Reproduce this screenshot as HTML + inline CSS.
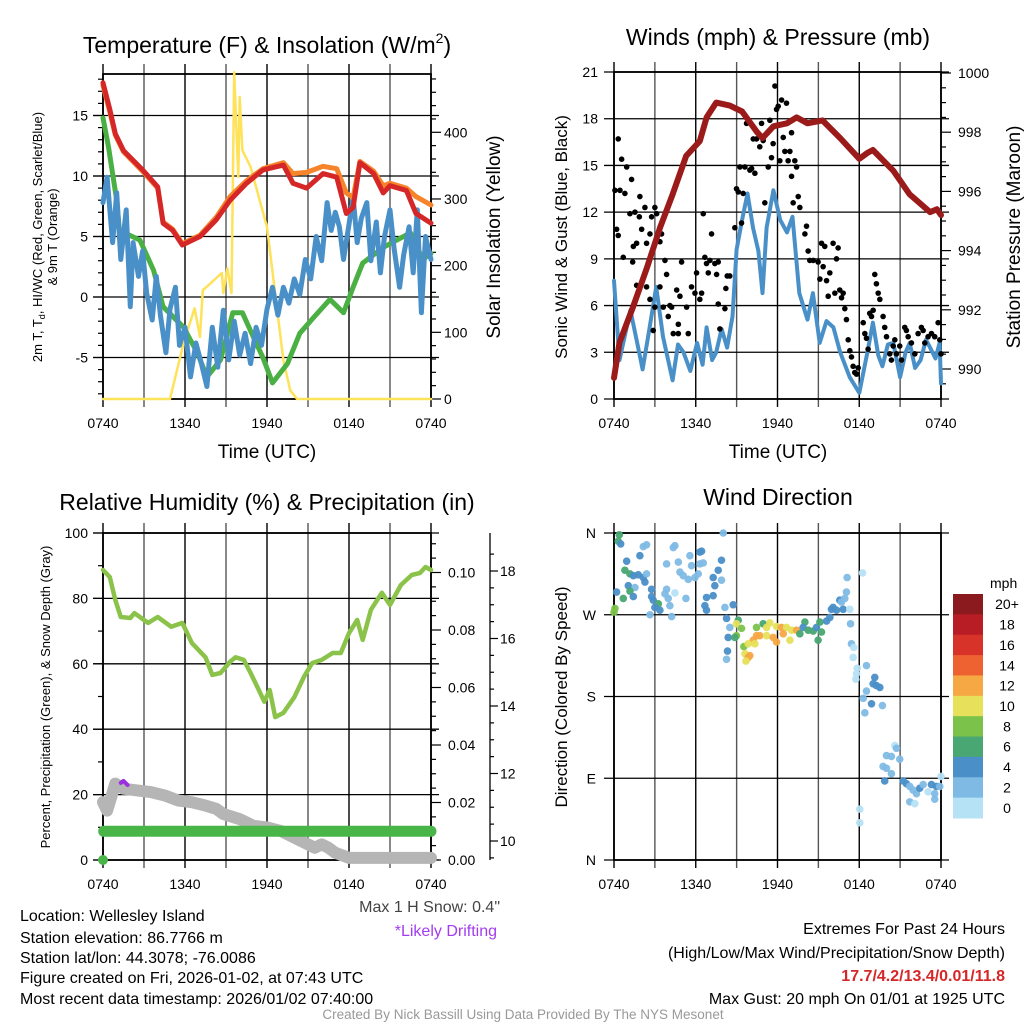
<!DOCTYPE html>
<html><head><meta charset="utf-8"><style>
html,body{margin:0;padding:0;background:#fff;}
svg{display:block;font-family:"Liberation Sans",Arial,sans-serif;}
</style></head><body>
<svg id="s" width="1024" height="1024" viewBox="0 0 1024 1024" xmlns="http://www.w3.org/2000/svg">
<rect width="1024" height="1024" fill="#fff"/>
<text x="267" y="53" font-size="23" text-anchor="middle">Temperature (F) &amp; Insolation (W/m<tspan font-size="14" dy="-10">2</tspan><tspan dy="10">)</tspan></text>
<text x="778" y="45" font-size="23" text-anchor="middle">Winds (mph) &amp; Pressure (mb)</text>
<text x="267" y="510" font-size="23" text-anchor="middle">Relative Humidity (%) &amp; Precipitation (in)</text>
<text x="778" y="505" font-size="23" text-anchor="middle">Wind Direction</text>
<text x="267" y="458" font-size="19" text-anchor="middle">Time (UTC)</text>
<text x="778" y="458" font-size="19" text-anchor="middle">Time (UTC)</text>
<text transform="translate(42,237) rotate(-90)" font-size="13" text-anchor="middle">2m T, T<tspan font-size="9" dy="3">d</tspan><tspan dy="-3">, HI/WC (Red, Green, Scarlet/Blue)</tspan></text>
<text transform="translate(57,237) rotate(-90)" font-size="13" text-anchor="middle">&amp; 9m T (Orange)</text>
<text transform="translate(500,237) rotate(-90)" font-size="19" text-anchor="middle">Solar Insolation (Yellow)</text>
<text transform="translate(567,237) rotate(-90)" font-size="17" text-anchor="middle">Sonic Wind &amp; Gust (Blue, Black)</text>
<text transform="translate(1020,237) rotate(-90)" font-size="19" text-anchor="middle">Station Pressure (Maroon)</text>
<text transform="translate(50,697) rotate(-90)" font-size="13" text-anchor="middle">Percent, Precipitation (Green), &amp; Snow Depth (Gray)</text>
<text transform="translate(567,697) rotate(-90)" font-size="17" text-anchor="middle">Direction (Colored By Speed)</text>
<g id="g1"></g><g id="g2"></g><g id="g3"></g><g id="g4"></g>
<g font-size="16">
<text x="20" y="921">Location: Wellesley Island</text>
<text x="20" y="943">Station elevation: 86.7766 m</text>
<text x="20" y="963">Station lat/lon: 44.3078; -76.0086</text>
<text x="20" y="983">Figure created on Fri, 2026-01-02, at 07:43 UTC</text>
<text x="20" y="1004">Most recent data timestamp: 2026/01/02 07:40:00</text>
</g>
<text x="500" y="912" font-size="16" text-anchor="end" fill="#444">Max 1 H Snow: 0.4"</text>
<text x="497" y="936" font-size="16" text-anchor="end" fill="#a33cf0">*Likely Drifting</text>
<g font-size="16" text-anchor="end">
<text x="1005" y="934">Extremes For Past 24 Hours</text>
<text x="1005" y="958">(High/Low/Max Wind/Precipitation/Snow Depth)</text>
<text x="1005" y="981" fill="#d62728" font-weight="bold">17.7/4.2/13.4/0.01/11.8</text>
<text x="1005" y="1004">Max Gust: 20 mph On 01/01 at 1925 UTC</text>
</g>
<text x="523" y="1019" font-size="13.5" text-anchor="middle" fill="#999">Created By Nick Bassill Using Data Provided By The NYS Mesonet</text>
</svg>
<script>
// ---------- data ----------
const timeTicks = ["0740","1340","1940","0140","0740"];
const redH = [0,0.5,0.9,1.5,2.9,4.0,4.4,5.1,5.8,7.1,8.3,9.3,10.5,11.7,13.2,13.9,14.9,16.1,17.1,17.8,18.3,18.8,19.8,20.5,21,22.2,22.9,24];
const redV = [17.7,15.5,13.5,12.1,10.5,9.1,6.1,5.5,4.3,5.0,6.4,8.0,9.4,10.5,10.9,9.4,9.0,10.2,9.9,6.9,7.4,11.1,10.2,8.6,9.2,8.8,6.9,6.1];
const orangeV = [17.5,15.3,13.4,12.0,10.4,9.0,6.2,5.6,4.4,5.1,6.6,8.3,9.6,10.6,11.1,10.2,10.3,10.8,10.6,8.6,8.2,11.2,10.4,9.2,9.4,9.0,8.3,7.6];
const greenH = [0,0.4,1.0,1.2,2.7,3.7,4.4,5.9,6.9,7.6,8.6,9.5,10.2,11,11.7,12.4,13.5,14.4,15.4,16.6,17.6,18.3,19,20.5,21.5,22.5,23.4,24];
const greenV = [14.8,12.4,8.0,5.5,4.7,2.2,-0.8,-2.5,-4.6,-6.6,-5.2,-1.3,-1.3,-3.3,-5.0,-7.1,-5.5,-3.0,-1.7,-0.2,-1.3,0.8,2.8,4.1,4.7,5.3,3.1,3.6];
const blueH = [0,0.3,0.7,1.0,1.3,1.7,2.0,2.2,2.6,2.9,3.2,3.6,3.9,4.2,4.6,4.9,5.3,5.6,6.0,6.4,6.8,7.2,7.6,8.0,8.4,8.8,9.2,9.6,10.0,10.4,10.8,11.2,11.6,12.0,12.4,12.8,13.2,13.6,14.0,14.4,14.8,15.2,15.6,16.0,16.4,16.7,17.0,17.3,17.6,18.0,18.3,18.6,18.9,19.3,19.6,20.0,20.3,20.6,21.0,21.3,21.7,22.0,22.4,22.7,23.0,23.3,23.6,24];
const blueV = [7.8,9.9,4.5,8.6,3.1,7.2,-0.8,4.5,1.7,3.8,0.3,-1.9,1.7,-1.5,-4.6,-1.0,0.8,-4.0,-2.5,-6.6,-3.8,-5.5,-7.4,-2.5,-5.8,-1.1,-5.2,-2.0,-4.8,-3.0,-5.5,-2.5,-4.0,-1.0,0.8,-1.5,0.8,-0.5,1.5,0.2,3.1,1.5,5.0,3.0,7.8,5.5,7.0,5.8,3.1,6.0,8.3,4.5,6.5,7.8,3.0,6.2,2.0,5.0,7.2,4.0,0.8,3.5,5.8,2.0,7.2,-1.3,5.0,3.1];
const solarH = [0,4.9,5.9,6.7,7.1,7.3,8.7,8.8,9.1,9.4,9.6,9.9,10.0,10.2,10.8,12.0,13.2,13.7,14.2,24];
const solarV = [0,0,84,136,93,163,189,159,196,159,490,333,453,373,348,258,58,13,0,0];

const presH = [0,0.4,1.4,2.4,3.4,4.3,5.3,6.3,6.8,7.5,8.5,9.4,10.5,10.9,11.7,12.7,13.4,14.2,15.3,16.6,18,18.6,19,20.5,21.7,23.2,23.7,24];
const presV = [989.7,990.9,992.1,993.4,994.8,995.9,997.2,997.7,998.5,999.0,998.9,998.7,998.0,997.8,998.2,998.3,998.5,998.3,998.4,997.8,997.1,997.3,997.4,996.7,995.9,995.3,995.4,995.2];
const windH = [0,0.4,1.2,1.7,2.1,2.6,3.1,3.6,4.3,4.7,5.1,5.6,6.1,6.5,6.8,7.2,7.5,7.9,8.3,8.7,9.0,9.4,9.8,10.2,10.6,10.9,11.2,11.7,12.2,12.7,13.1,13.6,14.2,14.6,15.1,15.6,16.1,16.6,17.3,18,18.6,19,19.4,19.7,20.1,20.5,21,21.4,21.7,22.1,22.5,22.9,23.2,23.6,23.9,24];
const windV = [7.6,2.5,5.7,3.6,1.9,4.5,7.2,4.0,1.2,3.5,3.0,1.8,3.6,2.2,4.6,2.5,3.0,4.5,3.3,5.3,9.6,11.5,13.2,11.0,9.5,6.8,11.0,13.4,11.5,10.7,11.7,6.8,5.1,6.8,3.6,5.0,4.6,3.0,1.4,0.4,3.0,4.9,2.8,2.1,3.5,3.6,1.4,3.0,3.6,2.0,2.5,3.8,3.3,2.6,3.6,1.0];
const gustH = [0.07,0.31,0.44,0.8,0.56,0.93,1.29,0.19,0.31,0.68,1.17,1.54,1.9,2.03,1.86,1.42,1.66,2.27,2.39,2.64,2.76,3.0,3.13,3.49,3.37,1.37,1.66,2.39,2.64,2.88,3.0,3.37,3.62,3.86,3.74,4.1,3.98,4.23,4.35,4.6,4.84,4.96,4.72,4.72,5.33,5.45,5.69,5.94,6.06,6.3,6.43,6.55,6.67,6.79,6.92,7.04,7.16,7.4,7.53,7.65,7.77,7.65,8.14,8.21,8.31,8.5,8.87,8.99,9.12,9.24,9.36,9.48,9.61,9.73,9.85,9.97,10.1,10.22,10.34,10.46,10.7,10.83,10.95,11.07,11.32,11.44,11.56,11.68,11.81,11.93,12.05,12.17,12.3,12.42,12.54,12.66,12.78,12.91,13.03,13.03,13.15,13.27,13.4,13.52,13.64,14.01,14.13,14.25,14.37,14.62,14.98,15.11,15.23,15.35,15.47,15.6,15.72,15.84,16.08,16.21,16.33,16.45,16.57,16.7,16.82,16.94,17.06,17.19,17.31,17.43,17.55,17.67,17.8,17.92,18.29,18.41,18.53,18.65,18.77,18.9,19.02,19.14,19.26,19.39,19.51,19.75,19.87,20.0,20.24,20.36,20.49,20.61,20.73,20.97,21.1,21.34,21.46,21.59,21.83,22.08,22.32,22.56,22.69,22.81,23.05,23.3,23.54,23.79,23.91,24];
const gustV = [13.4,16.7,13.4,13.2,15.4,14.9,14.1,10.9,10.5,9.1,11.9,12.0,13.0,10.9,11.7,9.8,10.0,12.3,10.0,10.6,11.7,12.3,11.9,10.6,10.1,8.8,7.3,7.2,6.4,4.4,5.9,7.2,5.9,8.0,8.9,6.0,5.3,5.9,4.2,7.0,6.6,8.8,4.8,4.2,5.9,4.2,7.2,6.8,8.1,6.4,6.8,11.9,9.1,8.7,8.1,8.9,10.6,8.7,8.0,8.8,4.5,6.1,5.8,7.1,7.9,7.9,11.0,13.5,13.3,14.9,11.3,13.2,14.9,17.7,17.9,14.7,14.8,16.7,14.5,16.7,16.2,17.7,16.6,12.6,14.9,17.9,15.5,16.4,20.1,18.6,18.8,15.3,19.2,16.8,15.9,19.0,15.3,15.9,17.1,14.3,12.6,15.3,14.9,13.0,12.3,10.6,11.1,9.5,8.9,8.9,8.8,7.7,10.0,8.5,9.8,7.6,6.6,8.1,10.0,6.8,9.0,9.7,7.0,6.5,6.8,5.8,5.1,3.8,3.1,2.7,2.1,1.7,1.6,2.0,4.9,4.2,3.9,3.2,5.5,5.3,5.7,8.0,7.4,6.8,6.4,5.3,4.6,4.0,2.9,2.5,3.4,3.8,2.9,3.4,2.5,4.6,4.4,4.0,3.6,2.9,4.2,4.6,4.4,3.6,4.0,4.2,4.0,4.9,3.8,2.9];

const rhH = [0,0.5,0.9,1.3,2,2.3,3,3.3,4,5,5.8,6.5,7.5,8,8.6,9.3,9.7,10.3,10.8,11.4,11.8,12.2,12.6,13.2,14,14.7,15.3,16,16.8,17.4,18,18.6,19,19.6,20.4,21,21.8,22.6,23.2,23.6,24];
const rhV = [88.7,86.5,79.5,74.3,74,75.5,73.4,72.5,74.3,71.3,72.5,66.4,62,56.6,57.2,60.6,62,61.2,57.2,52,48.4,52,43.7,45,49.8,56,60.2,61.2,63.3,63.3,69.4,73.4,67.3,76.5,81.7,78,84.1,87.2,87.8,89.6,88.7];
const snowH = [0,0.3,0.9,1.5,2.5,3.5,4.5,5.5,6.5,7.5,8.3,8.8,10,10.5,11,12,13,14,15,15.5,16,16.5,17,18,19,24];
const snowV = [11.15,10.9,11.7,11.55,11.5,11.45,11.35,11.2,11.15,11.05,10.95,10.8,10.65,10.55,10.45,10.4,10.3,10.1,9.9,9.8,9.9,9.8,9.65,9.5,9.5,9.5];
const driftH = [1.3,1.5,1.8];
const driftV = [11.72,11.78,11.66];
const precipH = [0.05,24];
const precipV = [0.010,0.010];

const dirH = [0.39,0.31,0.49,2.15,2.39,4.35,4.47,6.3,6.43,1.9,0.93,3.86,4.72,5.57,5.69,6.3,6.55,7.89,7.65,0.8,1.17,1.42,1.78,2.15,2.39,4.84,5.08,5.45,5.94,6.18,7.28,7.89,2.27,1.05,1.54,4.47,3.86,3.74,2.76,0.19,1.17,1.42,0.68,2.76,2.88,3.98,5.28,3.25,3.0,4.1,6.79,7.28,7.4,6.67,6.79,8.14,8.75,0.07,0.0,2.64,3.37,4.23,8.26,8.5,8.38,9.12,8.99,9.36,8.99,8.87,9.53,8.33,8.26,10.46,10.95,11.44,11.2,11.93,12.3,12.66,13.03,13.4,14.01,13.88,14.25,14.62,14.86,15.11,15.23,14.98,10.46,10.7,10.22,11.2,11.68,11.93,12.42,10.34,9.85,9.61,9.97,9.85,9.68,12.91,13.64,15.6,15.84,15.96,16.08,16.33,16.57,16.82,16.7,16.94,17.06,17.11,17.31,17.36,18.24,17.43,17.6,17.55,17.85,17.8,17.75,18.53,19.14,19.02,19.26,19.51,18.53,18.29,18.9,19.7,18.41,20.61,20.73,20.0,20.36,19.75,20.0,20.36,19.87,20.97,21.22,21.46,21.71,21.95,22.2,21.71,22.08,22.44,22.69,23.05,23.3,23.54,23.66,23.91,24.0,23.54,18.04,18.04,8.02];
const dirV = [358,351,348,345,347,344,346,339,340,335,329,326,328,335,324,326,327,330,319,319,315,313,314,311,315,317,313,309,311,315,311,308,306,302,300,294,298,293,298,295,296,290,288,290,286,288,288,282,278,280,289,291,302,280,275,278,281,277,273,270,275,268,266,256,245,264,260,255,247,245,235,230,221,256,260,261,256,257,256,256,253,253,262,256,253,252,256,262,251,242,247,247,242,247,245,240,249,238,238,227,225,223,219,242,249,263,267,276,278,275,286,276,284,288,295,311,276,260,316,238,234,223,211,205,199,214,201,194,192,190,186,178,172,170,162,126,123,115,114,103,101,95,87,111,87,84,81,77,73,64,62,79,83,75,83,73,81,81,92,67,56,41,360];
const dirS = [6.5,6.5,4.5,2.5,2.5,2.5,2.5,4.5,4.5,4.5,4.5,2.5,2.5,2.5,2.5,2.5,2.5,4.5,4.5,6.5,6.5,4.5,4.5,4.5,2.5,2.5,2.5,2.5,2.5,2.5,4.5,2.5,4.5,4.5,2.5,0.5,2.5,2.5,4.5,4.5,6.5,4.5,6.5,4.5,4.5,2.5,2.5,6.5,4.5,2.5,4.5,4.5,4.5,4.5,4.5,2.5,4.5,8.5,8.5,2.5,4.5,2.5,4.5,2.5,4.5,6.5,10.5,8.5,8.5,6.5,8.5,4.5,2.5,8.5,6.5,10.5,10.5,10.5,12.5,10.5,10.5,12.5,6.5,4.5,6.5,6.5,4.5,6.5,6.5,6.5,12.5,12.5,12.5,10.5,12.5,12.5,12.5,10.5,10.5,10.5,12.5,12.5,10.5,10.5,6.5,4.5,4.5,4.5,4.5,4.5,4.5,4.5,2.5,2.5,2.5,2.5,0.5,2.5,0.5,2.5,0.5,0.5,0.5,0.5,0.5,2.5,4.5,4.5,4.5,4.5,2.5,2.5,4.5,2.5,2.5,0.5,2.5,2.5,2.5,2.5,2.5,2.5,4.5,2.5,4.5,4.5,2.5,2.5,2.5,2.5,0.5,4.5,2.5,0.5,4.5,2.5,4.5,2.5,0.5,2.5,0.5,0.5,2.5];
const speedLabels = ["0","2","4","6","8","10","12","14","16","18","20+"];
const speedColors = ["#b6e2f6","#7fbae5","#4a8fc7","#48a772","#7bc24a","#e6e05a","#f6a844","#ee6130","#d83328","#b81d25","#8b1a1e"];

// ---------- helpers ----------
const NS="http://www.w3.org/2000/svg";
function mk(parent,tag,attrs){const e=document.createElementNS(NS,tag);for(const k in attrs)e.setAttribute(k,attrs[k]);parent.appendChild(e);return e;}
function linear(d0,d1,r0,r1){return v=>r0+(v-d0)*(r1-r0)/(d1-d0);}
function pathFrom(xs,ys,fx,fy){return xs.map((h,i)=>(i?"L":"M")+fx(h).toFixed(1)+","+fy(ys[i]).toFixed(1)).join("");}

function frame(g,L,R,T,B,fx){
  for(let h=0;h<=24;h+=3){const x=fx(h);
    const l=mk(g,"line",{x1:x,x2:x,y1:T-10,y2:B+8,stroke:(h%6==0)?"#000":"#555","stroke-width":1.4});
    
    }
  timeTicks.forEach((t,i)=>{const x=fx(i*6);
    const tx=mk(g,"text",{x:x,y:B+29,"font-size":14,"text-anchor":"middle"});tx.textContent=t;
    
    });
  const r=mk(g,"rect",{x:L,y:T,width:R-L,height:B-T,fill:"none",stroke:"#000","stroke-width":1.8});
  
  
}
function hgrid(g,L,R,y,w){const l=mk(g,"line",{x1:L-10,x2:R+8,y1:y,y2:y,stroke:"#000","stroke-width":w||1.3});
  
  }
function ytick(g,x,y,label,side,len,anchorX){
  mk(g,"line",{x1:x,x2:x+(side<0?-len:len),y1:y,y2:y,stroke:"#000","stroke-width":1.2});
  if(label!==null){const t=mk(g,"text",{x:anchorX,y:y+5,"font-size":14,"text-anchor":side<0?"end":"start"});t.textContent=label;
    
    }
}
function line(g,xs,ys,fx,fy,color,w,name,op){const p=mk(g,"path",{d:pathFrom(xs,ys,fx,fy),fill:"none",stroke:color,"stroke-width":w,"stroke-linejoin":"round","stroke-linecap":"round",opacity:op||1});
  
  return p;}

// ---------- panel 1 ----------
(function(){
  const g=document.getElementById("g1");
  const L=103,R=431,T=74,B=399;
  const fx=linear(0,24,L,R), fy=linear(0,5,297,236.5), fs=linear(0,400,399,132.3);
  frame(g,L,R,T,B,fx);
  [15,10,5,0,-5].forEach(v=>{hgrid(g,L,R,fy(v));ytick(g,L,fy(v),String(v),-1,10,88);});
  for(let v=-8;v<=18;v++){if(v%5)ytick(g,L,fy(v),null,-1,5,0);}
  [0,100,200,300,400].forEach(v=>ytick(g,R,fs(v),String(v),1,10,444));
  for(let v=20;v<=480;v+=20){if(v%100)ytick(g,R,fs(v),null,1,5,0);}
  line(g,solarH,solarV,fx,fs,"#fde25a",2.5,"solar-insolation-line");
  line(g,greenH,greenV,fx,fy,"#4ab043",5,"dewpoint-line");
  line(g,blueH,blueV,fx,fy,"#4a90c8",5,"windchill-line");
  line(g,redH,orangeV,fx,fy,"#f5842a",5,"9m-temp-line");
  line(g,redH,redV,fx,fy,"#d62728",5,"2m-temp-line");
})();

// ---------- panel 2 ----------
(function(){
  const g=document.getElementById("g2");
  const L=614,R=941,T=72,B=399;
  const fx=linear(0,24,L,R), fy=linear(0,21,B,T), fp=linear(990,1000,369,73);
  frame(g,L,R,T,B,fx);
  [0,3,6,9,12,15,18,21].forEach(v=>{hgrid(g,L,R,fy(v));const t=mk(g,"text",{x:598,y:fy(v)+5,"font-size":14,"text-anchor":"end"});t.textContent=v;
    
    });
  [990,992,994,996,998,1000].forEach(v=>ytick(g,R,fp(v),String(v),1,10,958));
  for(let v=989.5;v<=1000;v+=0.5){if(v%2)ytick(g,R,fp(v),null,1,5,0);}
  line(g,windH,windV,fx,fy,"#4a90c8",4,"sonic-wind-line");
  gustH.forEach((h,i)=>{const c=mk(g,"circle",{cx:fx(h),cy:fy(gustV[i]),r:2.8,fill:"#000"});
    
    });
  line(g,presH,presV,fx,fp,"#9b1b1b",6,"pressure-line");
})();

// ---------- panel 3 ----------
(function(){
  const g=document.getElementById("g3");
  const L=103,R=431,T=533,B=860;
  const fx=linear(0,24,L,R), fy=linear(0,100,B,T), fq=linear(0,0.1,860,572.5), fsn=linear(10,18,841,571);
  frame(g,L,R,T,B,fx);
  [0,20,40,60,80,100].forEach(v=>{hgrid(g,L,R,fy(v));ytick(g,L,fy(v),String(v),-1,10,88);});
  for(let v=10;v<100;v+=20)ytick(g,L,fy(v),null,-1,5,0);
  [0,0.02,0.04,0.06,0.08,0.10].forEach(v=>ytick(g,R,fq(v),v.toFixed(2),1,10,448));
  for(let v=0.005;v<0.115;v+=0.005){if(Math.round(v*1000)%20)ytick(g,R,fq(v),null,1,5,0);}
  const ax=mk(g,"line",{x1:490,x2:490,y1:533,y2:860,stroke:"#000","stroke-width":1.3});
  
  
  [10,12,14,16,18].forEach(v=>ytick(g,490,fsn(v),String(v),1,8,500));
  for(let v=9.5;v<=18.5;v+=0.5){if(v%2)ytick(g,490,fsn(v),null,1,4,0);}
  line(g,rhH,rhV,fx,fy,"#8bc34a",4.5,"relative-humidity-line");
  line(g,snowH,snowV,fx,fsn,"#b5b5b5",12,"snow-depth-line");
  line(g,driftH,driftV,fx,fsn,"#9b30e0",4,"drifting-snow-line");
  line(g,precipH,precipV,fx,fq,"#49b549",11,"precipitation-line");
  const d=mk(g,"circle",{cx:fx(0),cy:fq(0),r:5,fill:"#49b549"});
  
  
})();

// ---------- panel 4 ----------
(function(){
  const g=document.getElementById("g4");
  const L=614,R=941,T=533,B=860;
  const fx=linear(0,24,L,R), fy=linear(0,360,B,T);
  frame(g,L,R,T,B,fx);
  const labs=["N","E","S","W","N"];
  [0,90,180,270,360].forEach((v,i)=>{hgrid(g,L,R,fy(v));const t=mk(g,"text",{x:596,y:fy(v)+5,"font-size":14,"text-anchor":"end"});t.textContent=labs[i];
    
    });
  dirH.forEach((h,i)=>{const ci=Math.min(10,Math.floor(dirS[i]/2));
    const c=mk(g,"circle",{cx:fx(h),cy:fy(dirV[i]),r:3.8,fill:speedColors[ci],opacity:0.95});
    
    });
  const cb=mk(g,"g",{});
  
  
  const t0=mk(cb,"text",{x:990,y:588,"font-size":14});t0.textContent="mph";
  
  
  const h=(818-594)/speedLabels.length;
  speedLabels.forEach((lab,i)=>{const j=speedLabels.length-1-i;const y=594+i*h;
    const r=mk(cb,"rect",{x:953,y:y,width:30,height:h+0.5,fill:speedColors[j]});
    
    
    const t=mk(cb,"text",{x:1007,y:y+h/2+5,"font-size":14,"text-anchor":"middle"});t.textContent=speedLabels[j];
    
    });
})();
</script>
</body></html>
